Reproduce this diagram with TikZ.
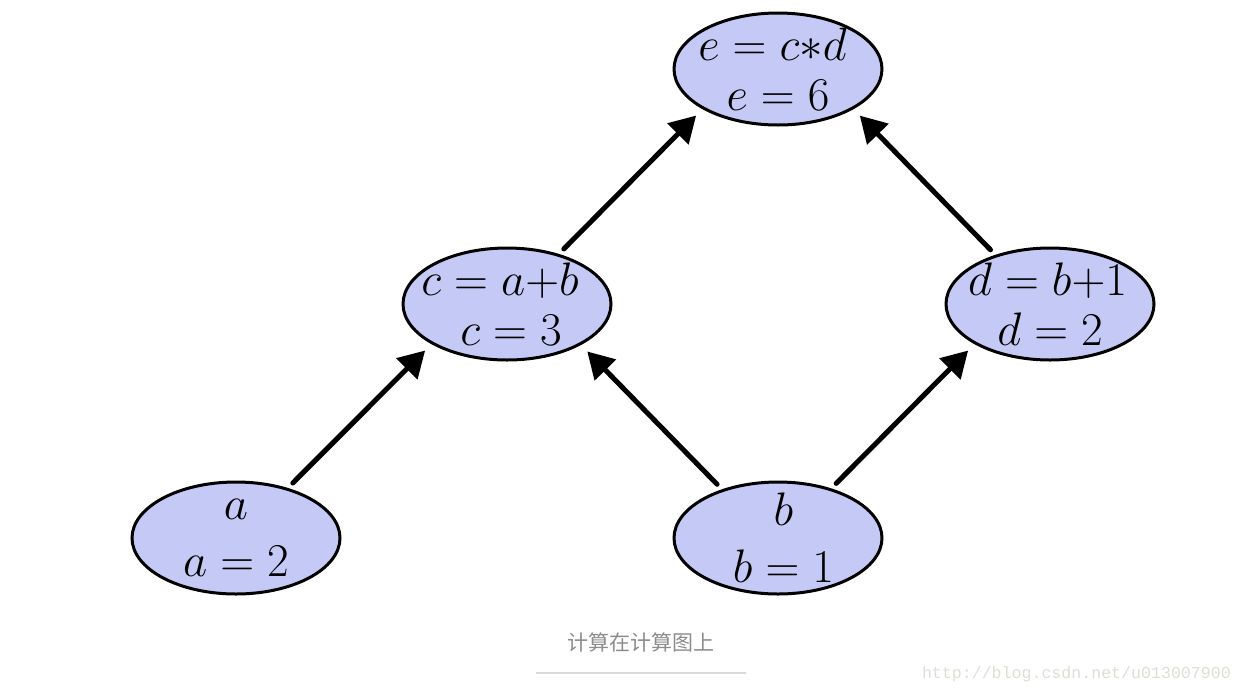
\RequirePackage{fix-cm}
\documentclass[tikz,border=0pt]{standalone}
\usepackage{fontspec}
\newfontfamily\cjkfont{Noto Sans CJK SC}
\newfontfamily\wmfont{Liberation Mono}
\usetikzlibrary{arrows.meta,shapes.geometric}
\definecolor{nodefill}{RGB}{197,201,245}
\definecolor{capgray}{RGB}{140,140,140}
\definecolor{rulegray}{RGB}{218,218,218}
\definecolor{wmgray}{RGB}{222,222,214}
\tikzset{
  var/.style={ellipse, draw=black, line width=3pt, fill=nodefill,
    minimum width=208pt, minimum height=112pt, inner sep=-30pt,
    align=center, font=\fontsize{47}{50}\selectfont},
  flow/.style={line width=5pt, line cap=round,
    -{Triangle[length=26pt,width=29pt]},
    shorten <=7pt, shorten >=9pt},
}
\begin{document}
\begin{tikzpicture}[x=1pt,y=-1pt]
\useasboundingbox (0,0) rectangle (1241,694);
\node[var] (e) at (778,69)  {$e=c{*}d\kern11pt$\\$e=6$};
\node[var] (c) at (507,304) {$c=a{+}b\kern14pt$\\$\kern8pt c=3$};
\node[var] (d) at (1050,304) {$d=b{+}1\kern5pt$\\$d=2$};
\node[var] (a) at (236,538) {$a$\\[7pt]$a=2$};
\node[var] (b) at (778,538) {$\kern11pt b$\\[7pt]$\kern11pt b=1$};

\draw[flow] (a.44.5) -- (c.-152);
\draw[flow] (c.44.5) -- (e.-152);
\draw[flow] (b.139) -- (c.-29);
\draw[flow] (b.43) -- (d.-152);
\draw[flow] (d.138.5) -- (e.-28.5);

\node[text=capgray, font=\cjkfont\fontsize{21}{24}\selectfont] (cap) at (641,642) {计算在计算图上};
\coordinate (rl) at (536,673);
\coordinate (rr) at (746,673);
\draw[rulegray, line width=2pt] (rl) -- (rr);
\node[text=wmgray, font=\wmfont\fontsize{16.6}{18}\selectfont, anchor=east, inner sep=0pt] (wm) at (1231,674) {http://blog.csdn.net/u013007900};
\end{tikzpicture}
\end{document}
